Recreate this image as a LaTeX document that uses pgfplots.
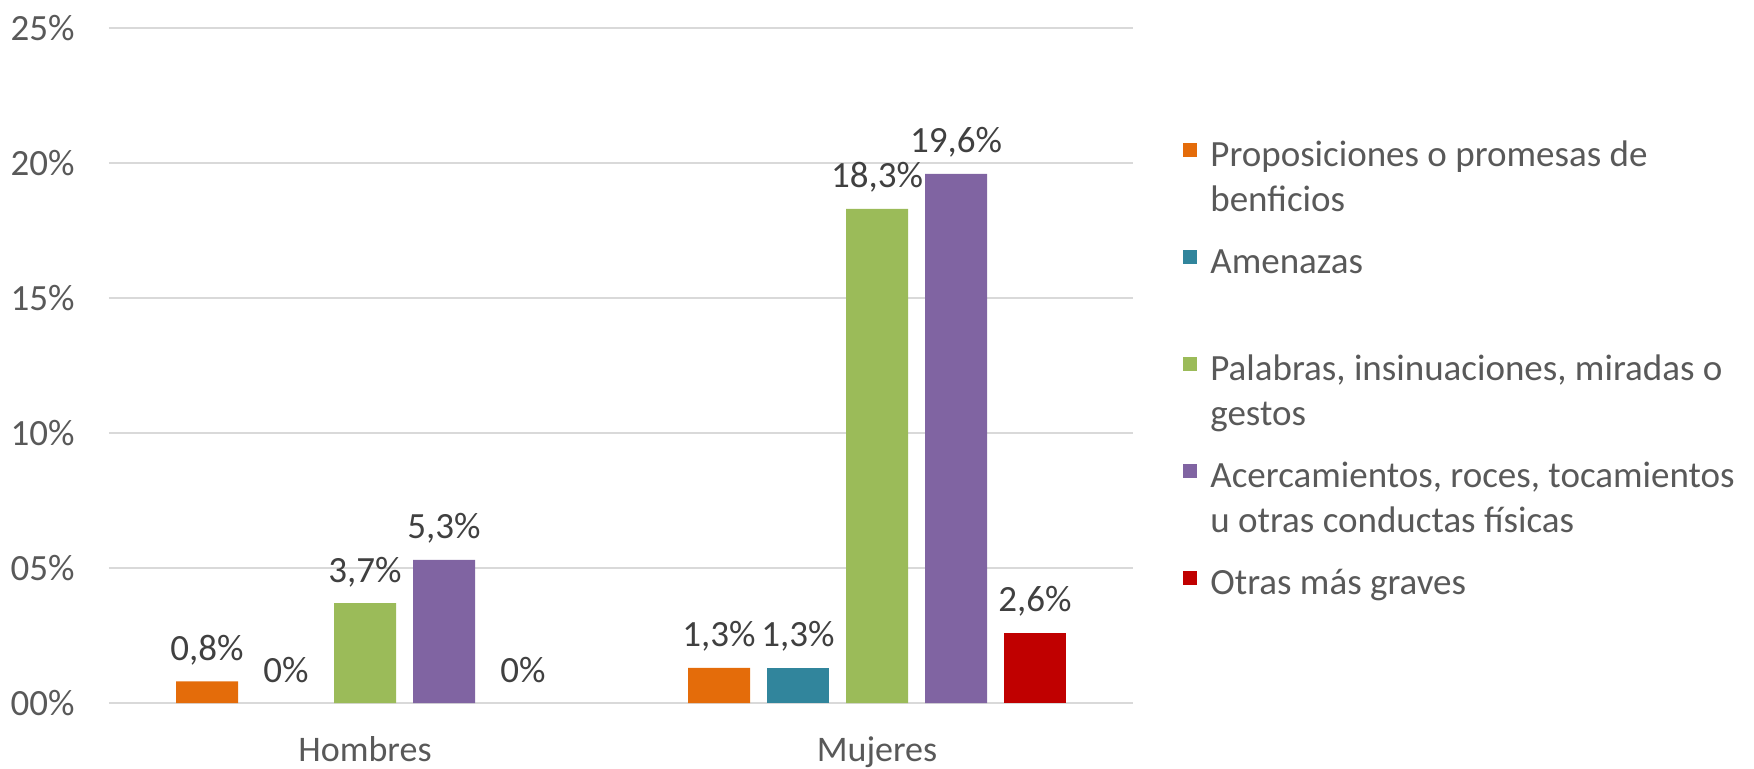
\documentclass[border=0pt]{standalone}
\usepackage{fontspec}
\setmainfont{Carlito}
\usepackage{pgfplots}
\pgfplotsset{compat=1.18}
\definecolor{cOrange}{HTML}{E46C0A}
\definecolor{cTeal}{HTML}{31859C}
\definecolor{cGreen}{HTML}{9BBB59}
\definecolor{cPurple}{HTML}{8064A2}
\definecolor{cRed}{HTML}{C00000}
\definecolor{gridgray}{HTML}{D9D9D9}
\definecolor{ticktext}{HTML}{595959}
\definecolor{labtext}{HTML}{404040}
\newcommand{\legtxt}[1]{\begin{tabular}[t]{@{}l@{}}#1\end{tabular}}

\begin{document}
\begin{tikzpicture}
\useasboundingbox (-54.5pt,-32.5pt) rectangle (822.5pt,351.5pt);
\begin{axis}[
    scale only axis,
    width=512pt, height=337.5pt,
    ybar, bar width=31pt,
    xmin=-0.5, xmax=1.5, ymin=0, ymax=25,
    xtick={0,1}, xticklabels={Hombres,Mujeres},
    ytick={0,5,10,15,20,25},
    yticklabels={00\%,05\%,10\%,15\%,20\%,25\%},
    axis line style={draw=none},
    major tick length=0pt,
    ymajorgrids, grid style={gridgray, line width=1pt},
    yticklabel style={font=\fontsize{18.5}{22}\selectfont, text=ticktext, anchor=east, inner sep=0pt, xshift=-17pt},
    xticklabel style={font=\fontsize{18}{22}\selectfont, text=ticktext, anchor=base, inner sep=0pt, yshift=-29pt},
    point meta=explicit symbolic,
    nodes near coords,
    every node near coord/.append style={font=\fontsize{18.5}{22}\selectfont, text=labtext, anchor=base, inner sep=0pt, yshift=10.5pt},
    legend style={at={(1.0488,0.8311)}, anchor=north west, draw=none, fill=none, inner sep=0pt,
        column sep=6.5pt, row sep=0pt,
        cells={anchor=base west},
        nodes={font=\fontsize{18.5}{22.5}\selectfont, text=ticktext, inner sep=0pt,
               text height=12pt, text depth=41.5pt}},
    legend image code/.code={\fill[#1] (0pt,4.5pt) rectangle (7pt,11.5pt);},
]
\addplot[fill=cOrange, draw=none, bar shift=-79pt] coordinates {(0,0.8) [0,8\%] (1,1.3) [1,3\%]};
\addlegendentry{\legtxt{Proposiciones o promesas de\\benficios}}
\addplot[fill=cTeal, draw=none, bar shift=-39.5pt] coordinates {(1,1.3) [1,3\%]};
\addlegendentry{\legtxt{Amenazas}}
\addplot[fill=cGreen, draw=none, bar shift=0pt] coordinates {(0,3.7) [3,7\%] (1,18.3) [18,3\%]};
\addlegendentry{\legtxt{Palabras, insinuaciones, miradas o\\gestos}}
\addplot[fill=cPurple, draw=none, bar shift=39.5pt] coordinates {(0,5.3) [5,3\%] (1,19.6) [19,6\%]};
\addlegendentry{\legtxt{Acercamientos, roces, tocamientos\\u otras conductas físicas}}
\addplot[fill=cRed, draw=none, bar shift=79pt] coordinates {(1,2.6) [2,6\%]};
\addlegendentry{\legtxt{Otras más graves}}
% zero-valued bars: only their labels are visible
\addplot[draw=none, fill=none, forget plot, bar shift=-39.5pt] coordinates {(0,0) [0\%]};
\addplot[draw=none, fill=none, forget plot, bar shift=79pt] coordinates {(0,0) [0\%]};
\end{axis}
\end{tikzpicture}
\end{document}
